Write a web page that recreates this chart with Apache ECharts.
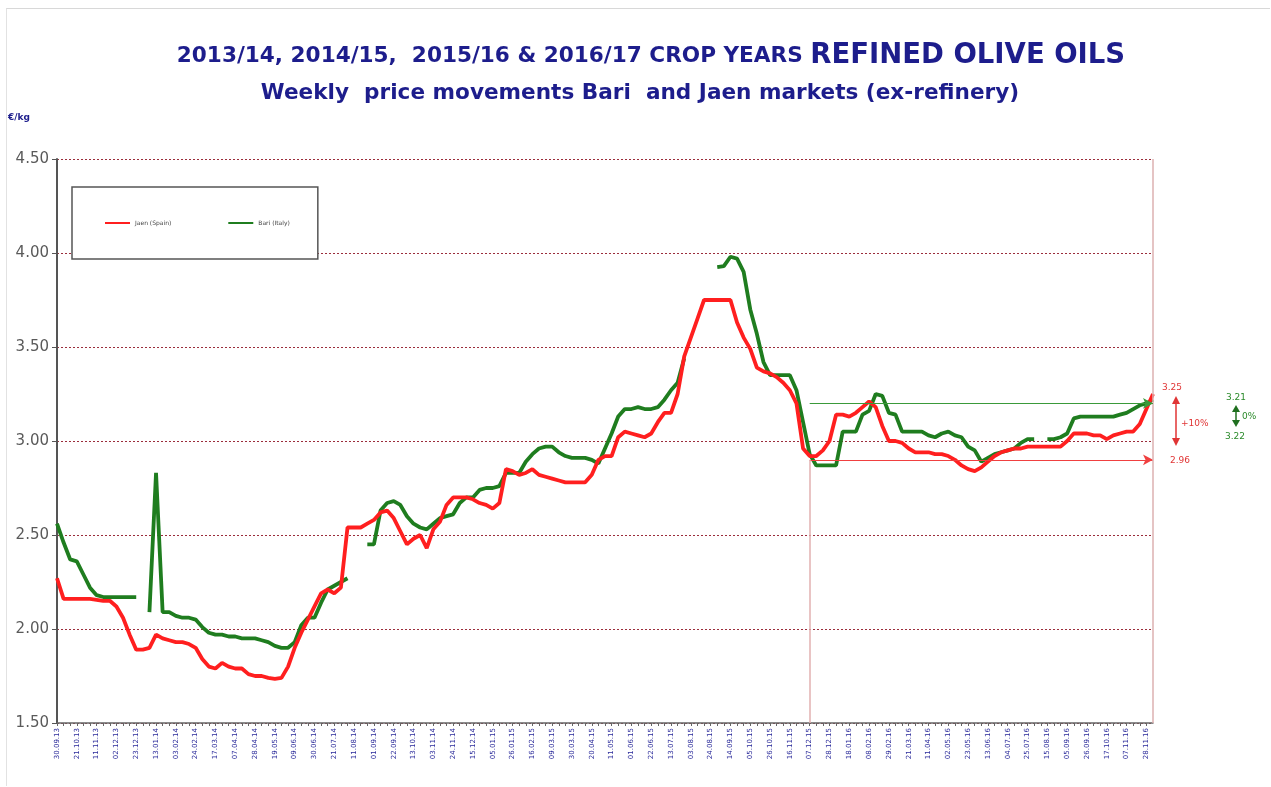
<!DOCTYPE html>
<html><head><meta charset="utf-8">
<script src="https://cdn.jsdelivr.net/npm/echarts@6/dist/echarts.min.js"></script>
<style>
html,body{margin:0;padding:0;background:#fff;}
#frame{position:absolute;left:6px;top:8px;width:1263px;height:777px;border-top:1px solid #d8d8d8;border-left:1px solid #e2e2e2;}
#c{position:absolute;left:0;top:0;width:1271px;height:787px;}
</style></head>
<body>
<div id="frame"></div>
<div id="c"></div>
<script>
// ---- DATA ----
const startDate = [2013, 9, 30];   // first weekly observation (Monday)
const weekCount = 167;
const yTicks = [1.5, 2.0, 2.5, 3.0, 3.5, 4.0, 4.5];
const seriesNames = ['Jaen (Spain)', 'Bari (Italy)'];

const jaen = [
2.27,2.16,2.16,2.16,2.16,2.16,2.155,2.15,2.15,2.12,
2.06,1.97,1.89,1.89,1.90,1.97,1.95,1.94,1.93,1.93,
1.92,1.90,1.84,1.80,1.79,1.82,1.80,1.79,1.79,1.76,
1.75,1.75,1.74,1.735,1.74,1.80,1.90,1.98,2.05,2.12,
2.19,2.21,2.19,2.22,2.54,2.54,2.54,2.56,2.58,2.62,
2.63,2.59,2.52,2.45,2.48,2.50,2.43,2.53,2.57,2.66,
2.70,2.70,2.70,2.69,2.67,2.66,2.64,2.67,2.85,2.84,
2.82,2.83,2.85,2.82,2.81,2.80,2.79,2.78,2.78,2.78,
2.78,2.82,2.90,2.92,2.92,3.02,3.05,3.04,3.03,3.02,
3.04,3.10,3.15,3.15,3.25,3.45,3.55,3.65,3.75,3.75,
3.75,3.75,3.75,3.63,3.55,3.49,3.39,3.37,3.36,3.34,
3.31,3.27,3.20,2.96,2.92,2.92,2.95,3.00,3.14,3.14,
3.13,3.15,3.18,3.21,3.18,3.08,3.00,3.00,2.99,2.96,
2.94,2.94,2.94,2.93,2.93,2.92,2.90,2.87,2.85,2.84,
2.86,2.89,2.92,2.94,2.95,2.96,2.96,2.97,2.97,2.97,
2.97,2.97,2.97,3.00,3.04,3.04,3.04,3.03,3.03,3.01,
3.03,3.04,3.05,3.05,3.09,3.17,3.25
];

const bari = [
2.56,2.46,2.37,2.36,2.29,2.22,2.18,2.17,2.17,2.17,
2.17,2.17,2.17,null,2.09,2.83,2.09,2.09,2.07,2.06,
2.06,2.05,2.01,1.98,1.97,1.97,1.96,1.96,1.95,1.95,
1.95,1.94,1.93,1.91,1.90,1.90,1.93,2.02,2.06,2.06,
2.14,2.21,2.23,2.25,2.27,null,null,2.45,2.45,2.63,
2.67,2.68,2.66,2.60,2.56,2.54,2.53,2.56,2.59,2.60,
2.61,2.67,2.70,2.70,2.74,2.75,2.75,2.76,2.83,2.83,
2.83,2.89,2.93,2.96,2.97,2.97,2.94,2.92,2.91,2.91,
2.91,2.90,2.88,2.96,3.04,3.13,3.17,3.17,3.18,3.17,
3.17,3.18,3.22,3.27,3.31,3.44,null,null,null,null,
3.925,3.93,3.98,3.97,3.90,3.70,3.57,3.42,3.35,3.35,
3.35,3.35,3.27,3.10,2.93,2.87,2.87,2.87,2.87,3.05,
3.05,3.05,3.14,3.16,3.25,3.24,3.15,3.14,3.05,3.05,
3.05,3.05,3.03,3.02,3.04,3.05,3.03,3.02,2.97,2.95,
2.89,2.91,2.93,2.94,2.95,2.96,2.99,3.01,3.01,null,
3.01,3.01,3.02,3.04,3.12,3.13,3.13,3.13,3.13,3.13,
3.13,3.14,3.15,3.17,3.19,3.20,3.22
];

// reference (one year earlier) markers
const refIndex = 114;
const jaenRefLevel = 2.90;
const bariRefLevel = 3.20;

// ---- build categories ----
function pad(n){return (n<10?'0':'')+n;}
const weeks = [];
{
  const d0 = new Date(Date.UTC(startDate[0], startDate[1]-1, startDate[2]));
  for (let i=0;i<weekCount;i++){
    const d = new Date(d0.getTime() + i*7*86400000);
    weeks.push(pad(d.getUTCDate())+'.'+pad(d.getUTCMonth()+1)+'.'+String(d.getUTCFullYear()).slice(2));
  }
}
const last = weekCount-1;

const RED = '#ff1f1f';
const GREEN = '#1f7d1f';
const NAVY = '#1d1d8c';

const chart = echarts.init(document.getElementById('c'), null, {renderer:'canvas'});
chart.setOption({
  animation:false,
  backgroundColor:'transparent',
  grid:{left:57, right:118, top:159, bottom:64, containLabel:false},
  legend:{
    data:seriesNames,
    left:72, top:187,
    orient:'horizontal',
    icon:'rect', itemWidth:25, itemHeight:2, itemGap:57,
    padding:[33,28,33,33],
    borderColor:'#555', borderWidth:1.5, backgroundColor:'#fff',
    textStyle:{fontSize:6, color:'#444', fontFamily:'DejaVu Sans'}
  },
  xAxis:{
    type:'category', data:weeks, boundaryGap:false,
    axisLine:{lineStyle:{color:'#666', width:1.5}},
    axisTick:{show:true, interval:0, length:3, lineStyle:{color:'#666'}},
    axisLabel:{
      rotate:90, fontSize:7, color:'#2a2a9a', fontFamily:'DejaVu Sans', margin:5,
      interval:function(i){return i%3===0 || i===last;}
    },
    splitLine:{show:false}
  },
  yAxis:{
    type:'value', min:yTicks[0], max:yTicks[yTicks.length-1], interval:0.5,
    axisLine:{show:true, lineStyle:{color:'#555', width:2}},
    axisTick:{show:true, length:5, lineStyle:{color:'#555'}},
    axisLabel:{formatter:function(v){return v.toFixed(2);}, fontSize:15, color:'#5a5a5a', fontFamily:'DejaVu Sans', margin:8},
    splitLine:{show:true, lineStyle:{color:'#9b2d3c', type:[2,2], width:1}}
  },
  series:[
    {
      name:seriesNames[0], type:'line', data:jaen, showSymbol:false, connectNulls:false,
      lineStyle:{color:RED, width:3.8}, itemStyle:{color:RED}, z:3,
      markLine:{
        silent:true, animation:false, label:{show:false}, emphasis:{disabled:true},
        data:[
          [{coord:[weeks[refIndex], jaenRefLevel], symbol:'none', lineStyle:{color:'#f04040', width:1, type:'solid'}},
           {coord:[weeks[last], jaenRefLevel], symbol:'arrow', symbolSize:[8,10]}],
          [{coord:[weeks[refIndex], jaenRefLevel], symbol:'none', lineStyle:{color:'#e2b0b0', width:1.5, type:'solid'}},
           {coord:[weeks[refIndex], yTicks[0]], symbol:'none'}],
          [{coord:[weeks[last], yTicks[yTicks.length-1]], symbol:'none', lineStyle:{color:'#dcb0b0', width:1.5, type:'solid'}},
           {coord:[weeks[last], yTicks[0]], symbol:'none'}]
        ]
      }
    },
    {
      name:seriesNames[1], type:'line', data:bari, showSymbol:false, connectNulls:false,
      lineStyle:{color:GREEN, width:3.8}, itemStyle:{color:GREEN}, z:2,
      markLine:{
        silent:true, animation:false, label:{show:false}, emphasis:{disabled:true},
        data:[
          [{coord:[weeks[refIndex], bariRefLevel], symbol:'none', lineStyle:{color:'#3a9a3a', width:1, type:'solid'}},
           {coord:[weeks[last], bariRefLevel], symbol:'arrow', symbolSize:[8,10]}]
        ]
      }
    }
  ],
  graphic:[
    {type:'text', x:651, y:56, style:{
      text:'{a|2013/14, 2014/15,  2015/16 & 2016/17 CROP YEARS }{b|REFINED OLIVE OILS}',
      align:'center', verticalAlign:'middle',
      rich:{
        a:{fontSize:21.6, fontWeight:'bold', fill:NAVY, fontFamily:'DejaVu Sans'},
        b:{fontSize:27.5, fontWeight:'bold', fill:NAVY, fontFamily:'DejaVu Sans'}
      }, fill:NAVY}},
    {type:'text', x:640, y:93, style:{
      text:'Weekly  price movements Bari  and Jaen markets (ex-refinery)',
      align:'center', verticalAlign:'middle',
      fontSize:21.6, fontWeight:'bold', fill:NAVY, fontFamily:'DejaVu Sans'}},
    {type:'text', left:8, top:113, style:{text:'€/kg', fontSize:9, fontWeight:'bold', fill:NAVY, fontFamily:'DejaVu Sans'}},
    // Jaen annotation
    {type:'text', left:1162, top:383, style:{text:'3.25', fontSize:9, fill:'#e03535', fontFamily:'DejaVu Sans'}},
    {type:'line', shape:{x1:1176, y1:402, x2:1176, y2:440}, style:{stroke:'#e03535', lineWidth:1.5}},
    {type:'polygon', shape:{points:[[1176,396],[1172,404],[1180,404]]}, style:{fill:'#e03535'}},
    {type:'polygon', shape:{points:[[1176,446],[1172,438],[1180,438]]}, style:{fill:'#e03535'}},
    {type:'text', left:1181, top:419, style:{text:'+10%', fontSize:9, fill:'#e03535', fontFamily:'DejaVu Sans'}},
    {type:'text', left:1170, top:456, style:{text:'2.96', fontSize:9, fill:'#e03535', fontFamily:'DejaVu Sans'}},
    // Bari annotation
    {type:'text', left:1226, top:393, style:{text:'3.21', fontSize:9, fill:'#2a8a2a', fontFamily:'DejaVu Sans'}},
    {type:'line', shape:{x1:1236, y1:409, x2:1236, y2:423}, style:{stroke:'#1f6f1f', lineWidth:1.5}},
    {type:'polygon', shape:{points:[[1236,405],[1232,412],[1240,412]]}, style:{fill:'#1f6f1f'}},
    {type:'polygon', shape:{points:[[1236,427],[1232,420],[1240,420]]}, style:{fill:'#1f6f1f'}},
    {type:'text', left:1242, top:412, style:{text:'0%', fontSize:9, fill:'#2a8a2a', fontFamily:'DejaVu Sans'}},
    {type:'text', left:1225, top:432, style:{text:'3.22', fontSize:9, fill:'#2a8a2a', fontFamily:'DejaVu Sans'}}
  ]
});
</script>
</body></html>
